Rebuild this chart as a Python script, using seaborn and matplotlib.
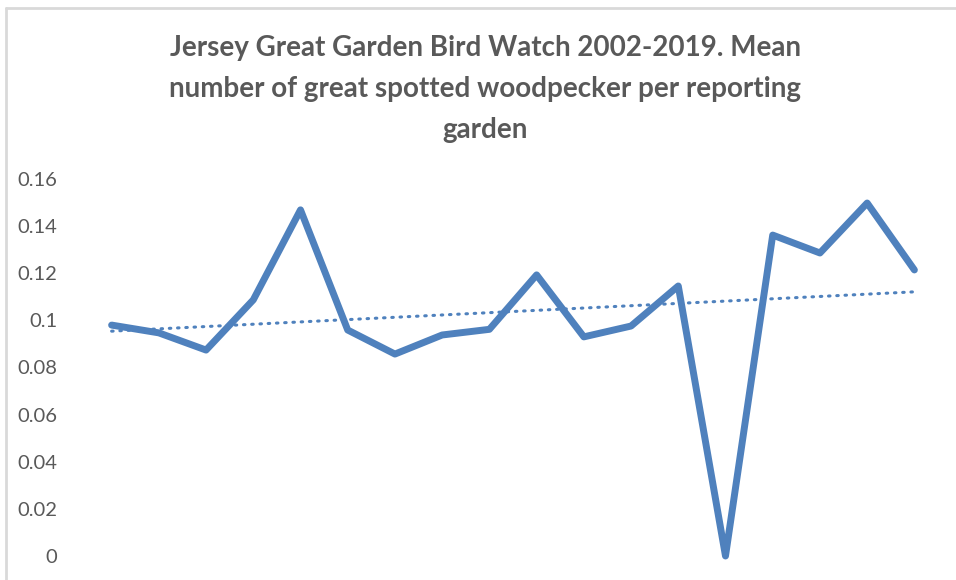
import numpy as np
import pandas as pd
import seaborn as sns
import matplotlib.pyplot as plt
from matplotlib.lines import Line2D

years = list(range(2002, 2020))
mean_gsw = [0.098, 0.0947, 0.0874, 0.1087, 0.1469, 0.0959, 0.0857, 0.0938, 0.0962,
            0.1193, 0.0930, 0.0976, 0.1146, 0.0, 0.1362, 0.1286, 0.1498, 0.1214]
y_ticks = [0, 0.02, 0.04, 0.06, 0.08, 0.1, 0.12, 0.14, 0.16]
y_tick_labels = ['0', '0.02', '0.04', '0.06', '0.08', '0.1', '0.12', '0.14', '0.16']

df = pd.DataFrame({'year': years, 'mean': mean_gsw})
df['pos'] = np.arange(len(df))

# linear trend line, like Excel's
slope, icpt = np.polyfit(df['pos'], df['mean'], 1)
df['trend'] = slope * df['pos'] + icpt

sns.set_style('white')
plt.rcParams['font.family'] = ['Lato', 'DejaVu Sans']

W, H = 956, 580
fig = plt.figure(figsize=(W / 100, H / 100), dpi=100)
ax = fig.add_axes([88 / W, (H - 556) / H, (938 - 88) / W, (556 - 179) / H])

blue = '#4f81bd'
sns.lineplot(data=df, x='pos', y='mean', ax=ax, color=blue, linewidth=5,
             solid_joinstyle='round', solid_capstyle='round', clip_on=False)
sns.lineplot(data=df, x='pos', y='trend', ax=ax, color=blue, linewidth=2.2,
             linestyle=(0, (0.5, 2.2)), dash_capstyle='round', clip_on=False)

ax.set_xlim(-0.5, len(df) - 0.5)
ax.set_ylim(0, 0.16)
ax.set_yticks(y_ticks)
ax.set_yticklabels(y_tick_labels, color='#595959', fontsize=14.5)
ax.set_xticks([])
ax.tick_params(axis='y', length=0, pad=22)
ax.set_xlabel('')
ax.set_ylabel('')
for s in ax.spines.values():
    s.set_visible(False)

# chart title
title_lines = ['Jersey Great Garden Bird Watch 2002-2019. Mean',
               'number of great spotted woodpecker per reporting',
               'garden']
for i, line in enumerate(title_lines):
    fig.text(485 / W, 1 - (48 + 41 * i) / H, line, ha='center', va='center',
             fontsize=20, fontweight='bold', color='#595959')

# chart area border (left and top only visible)
fig.add_artist(Line2D([6 / W, 6 / W], [0, 1 - 8 / H], transform=fig.transFigure,
                      color='#d9d9d9', linewidth=2))
fig.add_artist(Line2D([6 / W, 1], [1 - 8 / H, 1 - 8 / H], transform=fig.transFigure,
                      color='#d9d9d9', linewidth=2))

fig.savefig('out.png', dpi=100)
